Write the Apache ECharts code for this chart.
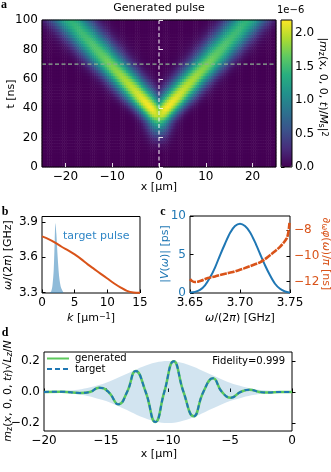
<!DOCTYPE html>
<html>
<head>
<meta charset="utf-8">
<script src="https://cdn.jsdelivr.net/npm/echarts@6/dist/echarts.min.js"></script>
<style>
html, body { margin: 0; padding: 0; background: #fff; }
#chart { width: 331px; height: 472px; }
</style>
</head>
<body>
<div id="chart"></div>
<script>
// panel a: the two arms of the pulse (|x| of arm centre, peak in 1e-6, width in um)
var ridgeT      = [10,  15,  20,   25,  30,  35,  40,  45,   50,  60,  70,   80,   90,   100];
var ridgeCenter = [0,   0,   0,    0,   0,   0.6, 1.6, 3.0,  4.4, 7.3, 10.3, 13.1, 16.0, 18.8];
var ridgePeak   = [0,   0.1, 0.35, 0.8, 1.4, 2.0, 2.2, 2.15, 2.05, 1.9, 1.75, 1.6,  1.5,  1.42];
var ridgeWidth  = [1.5, 1.5, 1.6,  1.7, 1.8, 2.0, 2.25, 2.4, 2.5, 2.6, 2.75, 2.85, 2.95, 3.05];
var cutX = 0, cutT = 70;
var xTicksA = [-20, -10, 0, 10, 20];
var cbarTicks = [0, 0.5, 1.0, 1.5, 2.0];
var cbarMax = 2.2;

// panel b: dispersion and target pulse spectrum
var bK     = [0, 1, 2, 3, 4, 5, 6, 7, 8, 9, 10, 11, 12, 13, 14, 15];
var bOmega = [3.778, 3.755, 3.725, 3.69, 3.66, 3.625, 3.585, 3.54, 3.5, 3.46, 3.42, 3.38, 3.345, 3.315, 3.302, 3.30];
var spikeK = [1.1, 1.4, 1.6, 1.8, 1.95, 2.05, 2.2, 2.4, 2.6, 2.8, 3.0, 3.3];
var spikeW = [3.297, 3.31, 3.36, 3.5, 3.75, 3.89, 3.8, 3.6, 3.45, 3.37, 3.33, 3.30];

// panel c: |V(w)| and phase derivative
var cW   = [3.650, 3.655, 3.660, 3.665, 3.670, 3.675, 3.680, 3.685, 3.690, 3.695, 3.700, 3.705, 3.710, 3.715, 3.720, 3.725, 3.730, 3.735, 3.740, 3.745, 3.750];
var cAmp = [0.05, 0.15, 0.4, 1.0, 2.0, 3.3, 4.9, 6.4, 7.8, 8.7, 9.0, 8.7, 7.9, 6.6, 5.1, 3.6, 2.3, 1.2, 0.55, 0.2, 0.05];
var phW   = [3.650, 3.652, 3.655, 3.658, 3.661, 3.668, 3.675, 3.681, 3.687, 3.693, 3.698, 3.704, 3.710, 3.715, 3.720, 3.725, 3.730, 3.735, 3.740, 3.744, 3.747, 3.7485, 3.7495];
var phVal = [-11.8, -11.95, -12.03, -12.0, -11.93, -11.72, -11.6, -11.46, -11.35, -11.25, -11.13, -10.97, -10.8, -10.65, -10.5, -10.25, -9.95, -9.65, -9.3, -8.95, -8.6, -8.1, -7.45];

// panel d: generated / target profile (extrema and zero crossings) and envelope
var dX = [-20, -18.6, -17.1, -16.3, -15.56, -14.8, -13.98, -13.3, -12.6, -11.8, -11.02, -10.3, -9.54, -8.75, -7.93, -7.15, -6.37, -5.65, -4.92, -4.15, -3.41, -2.65, -1.9, -1, 0];
var dY = [0, 0.002, -0.006, 0, 0.028, 0, -0.08, 0, 0.135, 0, -0.194, 0, 0.198, 0, -0.157, 0, 0.088, 0, -0.037, 0, 0.015, 0, -0.004, 0, 0];
var envX = [-20, -19, -18, -17, -16, -15, -14, -13, -12, -11, -10, -9, -8, -7, -6, -5, -4, -3, -2, -1, 0];
var envY = [0.001, 0.004, 0.009, 0.018, 0.035, 0.059, 0.093, 0.129, 0.165, 0.19, 0.2, 0.19, 0.165, 0.129, 0.093, 0.059, 0.035, 0.018, 0.009, 0.004, 0.001];

var FONT = '"DejaVu Sans"';
var BLUE = '#1f77b4', ORANGE = '#d95319', GREEN = '#5cc95c';
var viridis = ['#440154', '#472d7b', '#3b528b', '#2c728e', '#21918c', '#28ae80', '#5ec962', '#addc30', '#fde725'];

function minus(v, d) {
  var s = Math.abs(v).toFixed(d);
  return (v < -1e-9 ? '\u2212' : '') + s;
}

function ridgeAt(arr, t) {
  if (t <= ridgeT[0]) return arr[0];
  for (var k = 1; k < ridgeT.length; k++) {
    if (t <= ridgeT[k]) {
      var f = (t - ridgeT[k - 1]) / (ridgeT[k] - ridgeT[k - 1]);
      return arr[k - 1] + f * (arr[k] - arr[k - 1]);
    }
  }
  return arr[arr.length - 1];
}

// build the map cells from the ridge table
var xCells = [], tCells = [], heatData = [];
for (var i = 0; i < 125; i++) xCells.push(-25 + (i + 0.5) * 0.4);
for (var j = 0; j < 50; j++) tCells.push((j + 0.5) * 2);
for (j = 0; j < tCells.length; j++) {
  var t = tCells[j];
  var c = ridgeAt(ridgeCenter, t), p = ridgeAt(ridgePeak, t), w = ridgeAt(ridgeWidth, t);
  for (i = 0; i < xCells.length; i++) {
    var x = xCells[i];
    var g = Math.max(Math.exp(-(x - c) * (x - c) / (2 * w * w)), Math.exp(-(x + c) * (x + c) / (2 * w * w)));
    heatData.push([i, j, p * g]);
  }
}

function pairs(xs, ys) {
  return xs.map(function (v, k) { return [v, ys[k]]; });
}

var tick = { inside: true, length: 3.5, lineStyle: { color: '#000', width: 1 } };
var lbl = { color: '#000', fontSize: 12, fontFamily: 'DejaVu Sans', margin: 4 };

function valAxis(extra) {
  var a = {
    type: 'value',
    axisLine: { show: false },
    splitLine: { show: false },
    axisTick: Object.assign({}, tick),
    axisLabel: Object.assign({}, lbl)
  };
  for (var k in extra) {
    if (k === 'axisTick' || k === 'axisLabel') a[k] = Object.assign(a[k], extra[k]);
    else a[k] = extra[k];
  }
  return a;
}

var box = { show: true, borderColor: '#000', borderWidth: 1, backgroundColor: 'transparent' };

function T(x, y, text, o) {
  o = o || {};
  var st = {
    text: text,
    fill: o.fill || '#000',
    font: o.font || '11px ' + FONT,
    align: o.align || 'center',
    verticalAlign: o.va || 'middle',
    textAlign: o.align || 'center',
    textVerticalAlign: o.va || 'middle'
  };
  if (o.rich) st.rich = o.rich;
  return { type: 'text', x: x, y: y, rotation: o.rot || 0, z: 100, style: st };
}

function rich(fill) {
  return {
    i: { font: 'italic 11px ' + FONT, fill: fill },
    s: { font: '8px ' + FONT, fill: fill, verticalAlign: 'bottom', lineHeight: 9 },
    si: { font: 'italic 8px ' + FONT, fill: fill, verticalAlign: 'bottom', lineHeight: 9 },
    p: { font: '8px ' + FONT, fill: fill, verticalAlign: 'top', lineHeight: 8 }
  };
}

var LETTER = 'bold 12px "Liberation Serif"';

var option = {
  animation: false,
  backgroundColor: '#fff',
  grid: [
    { left: 42, top: 20, width: 234, height: 147 },
    Object.assign({ left: 42, top: 20, width: 234, height: 147, z: 5 }, box),
    Object.assign({ left: 281, top: 20, width: 11, height: 147, z: 5 }, box),
    Object.assign({ left: 42, top: 216.5, width: 98, height: 76.5 }, box),
    Object.assign({ left: 190, top: 216, width: 100, height: 77 }, box),
    Object.assign({ left: 44, top: 352, width: 248, height: 79 }, box)
  ],
  xAxis: [
    { type: 'category', gridIndex: 0, data: xCells, show: false },
    valAxis({ gridIndex: 1, min: -25, max: 25, z: 10,
      axisTick: { customValues: xTicksA, length: 4, lineStyle: { color: 'rgba(255,255,255,0.85)', width: 1 } },
      axisLabel: { customValues: xTicksA, formatter: function (v) { return minus(v, 0); } } }),
    valAxis({ gridIndex: 2, min: 0, max: 1, show: false }),
    valAxis({ gridIndex: 3, min: 0, max: 15, interval: 5 }),
    valAxis({ gridIndex: 4, min: 3.65, max: 3.75,
      axisTick: { customValues: [3.65, 3.70, 3.75] },
      axisLabel: { customValues: [3.65, 3.70, 3.75], formatter: function (v) { return v.toFixed(2); } } }),
    valAxis({ gridIndex: 5, min: -20, max: 0, interval: 5,
      axisLabel: { formatter: function (v) { return minus(v, 0); } } })
  ],
  yAxis: [
    { type: 'category', gridIndex: 0, data: tCells, show: false },
    valAxis({ gridIndex: 1, min: 0, max: 100, interval: 20, z: 10,
      axisTick: { length: 4, lineStyle: { color: 'rgba(255,255,255,0.85)', width: 1 } } }),
    valAxis({ gridIndex: 2, min: 0, max: cbarMax, position: 'right',
      axisTick: { inside: false, length: 3.5, customValues: cbarTicks },
      axisLabel: { margin: 3, customValues: cbarTicks, formatter: function (v) { return v.toFixed(1); } } }),
    valAxis({ gridIndex: 3, min: 3.297, max: 3.947,
      axisTick: { customValues: [3.3, 3.6, 3.9] },
      axisLabel: { customValues: [3.3, 3.6, 3.9], formatter: function (v) { return v.toFixed(1); } } }),
    valAxis({ gridIndex: 4, min: 0, max: 10, interval: 5,
      axisLabel: { color: BLUE } }),
    valAxis({ gridIndex: 4, min: -12.88, max: -6.91, position: 'right',
      axisTick: { customValues: [-12, -10, -8] },
      axisLabel: { color: ORANGE, customValues: [-12, -10, -8], formatter: function (v) { return minus(v, 0); } } }),
    valAxis({ gridIndex: 5, min: -0.252, max: 0.258,
      axisTick: { customValues: [-0.2, 0, 0.2] },
      axisLabel: { customValues: [-0.2, 0, 0.2], formatter: function (v) { return minus(v, 1); } } })
  ],
  visualMap: {
    type: 'continuous', seriesIndex: 0, dimension: 2, min: 0, max: cbarMax,
    inRange: { color: viridis }, calculable: false, show: true,
    left: 281, top: 20, itemWidth: 11, itemHeight: 147, padding: 0, text: null
  },
  legend: {
    data: ['generated', 'target'], left: 46, top: 353.5, orient: 'vertical',
    itemWidth: 22, itemHeight: 11, itemGap: 0.5, padding: 0,
    itemStyle: { opacity: 0 },
    textStyle: { fontSize: 10, fontFamily: 'DejaVu Sans', color: '#000', padding: [0, 0, 0, 1] }
  },
  series: [
    { type: 'heatmap', xAxisIndex: 0, yAxisIndex: 0, data: heatData, progressive: 0, emphasis: { disabled: true } },
    { type: 'line', xAxisIndex: 1, yAxisIndex: 1, data: [[cutX, 0], [cutX, 100]], symbol: 'none', z: 4,
      lineStyle: { color: 'rgba(255,255,255,0.75)', width: 1.3, type: [4, 2.5] } },
    { type: 'line', xAxisIndex: 1, yAxisIndex: 1, data: [[-25, cutT], [25, cutT]], symbol: 'none', z: 4,
      lineStyle: { color: '#8db392', width: 1.3, type: [4, 2.5] } },
    { type: 'line', xAxisIndex: 3, yAxisIndex: 3, data: pairs(bK, bOmega), symbol: 'none', smooth: 0.3,
      lineStyle: { color: ORANGE, width: 2 } },
    { type: 'line', xAxisIndex: 3, yAxisIndex: 3, data: pairs(spikeK, spikeW), symbol: 'none', smooth: 0.3,
      lineStyle: { width: 0 }, areaStyle: { color: 'rgba(31,119,180,0.5)', origin: 'start', opacity: 1 } },
    { type: 'line', xAxisIndex: 4, yAxisIndex: 4, data: pairs(cW, cAmp), symbol: 'none', smooth: 0.3,
      lineStyle: { color: BLUE, width: 2 } },
    { type: 'line', xAxisIndex: 4, yAxisIndex: 5, data: pairs(phW, phVal), symbol: 'none', smooth: 0.3,
      lineStyle: { color: ORANGE, width: 2.6, type: [7, 1] } },
    { type: 'line', xAxisIndex: 5, yAxisIndex: 6, data: pairs(envX, envY), symbol: 'none', smooth: 0.4,
      lineStyle: { width: 0 }, areaStyle: { color: 'rgba(31,119,180,0.2)', opacity: 1 } },
    { type: 'line', xAxisIndex: 5, yAxisIndex: 6, data: pairs(envX, envY.map(function (v) { return -v; })), symbol: 'none', smooth: 0.4,
      lineStyle: { width: 0 }, areaStyle: { color: 'rgba(31,119,180,0.2)', opacity: 1 } },
    { name: 'generated', type: 'line', xAxisIndex: 5, yAxisIndex: 6, data: pairs(dX, dY), symbol: 'none', smooth: 0.5,
      color: GREEN, lineStyle: { color: GREEN, width: 2.5 } },
    { name: 'target', type: 'line', xAxisIndex: 5, yAxisIndex: 6, data: pairs(dX, dY), symbol: 'none', smooth: 0.5,
      color: BLUE, lineStyle: { color: BLUE, width: 2, type: [5, 3] } }
  ],
  graphic: [
    T(4, 5, 'a', { font: LETTER }),
    T(159, 8, 'Generated pulse', { font: '11px ' + FONT }),
    T(277, 10, '1e\u22126', { align: 'left', font: '10px ' + FONT }),
    T(11, 94, 't [ns]', { rot: Math.PI / 2 }),
    T(323, 87, '|{i|m}{s|z}(x, 0, 0, {i|t})/{i|M}{s|s}|{p|2}', { rot: -Math.PI / 2, rich: rich('#000') }),
    T(159, 187, 'x [\u03bcm]'),
    T(5, 212, 'b', { font: LETTER }),
    T(163, 212, 'c', { font: LETTER }),
    T(8, 255, '{i|\u03c9}/(2{i|\u03c0}) [GHz]', { rot: Math.PI / 2, rich: rich('#000') }),
    T(63, 236, 'target pulse', { align: 'left', fill: '#2f86c6' }),
    T(165, 254, '|{i|V}({i|\u03c9})| [ps]', { rot: Math.PI / 2, fill: BLUE, rich: rich(BLUE) }),
    T(326, 254, '\u2202{s|\u03c9}{i|\u03c6}({i|\u03c9})/{i|\u03c0} [ns]', { rot: -Math.PI / 2, fill: ORANGE, rich: rich(ORANGE) }),
    T(91, 318, '{i|k} [\u03bcm{p|\u22121}]', { rich: rich('#000') }),
    T(240, 318, '{i|\u03c9}/(2{i|\u03c0}) [GHz]', { rich: rich('#000') }),
    T(5, 333, 'd', { font: LETTER }),
    T(8, 391, '{i|m}{s|z}({i|x}, 0, 0, {i|t}{si|f})\u221a{i|L}{si|z}/{i|N}', { rot: Math.PI / 2, rich: rich('#000') }),
    T(285, 361, 'Fidelity=0.999', { align: 'right', font: '10px ' + FONT }),
    T(159, 454, 'x [\u03bcm]')
  ]
};

var chart = echarts.init(document.getElementById('chart'));
chart.setOption(option);
</script>
</body>
</html>
